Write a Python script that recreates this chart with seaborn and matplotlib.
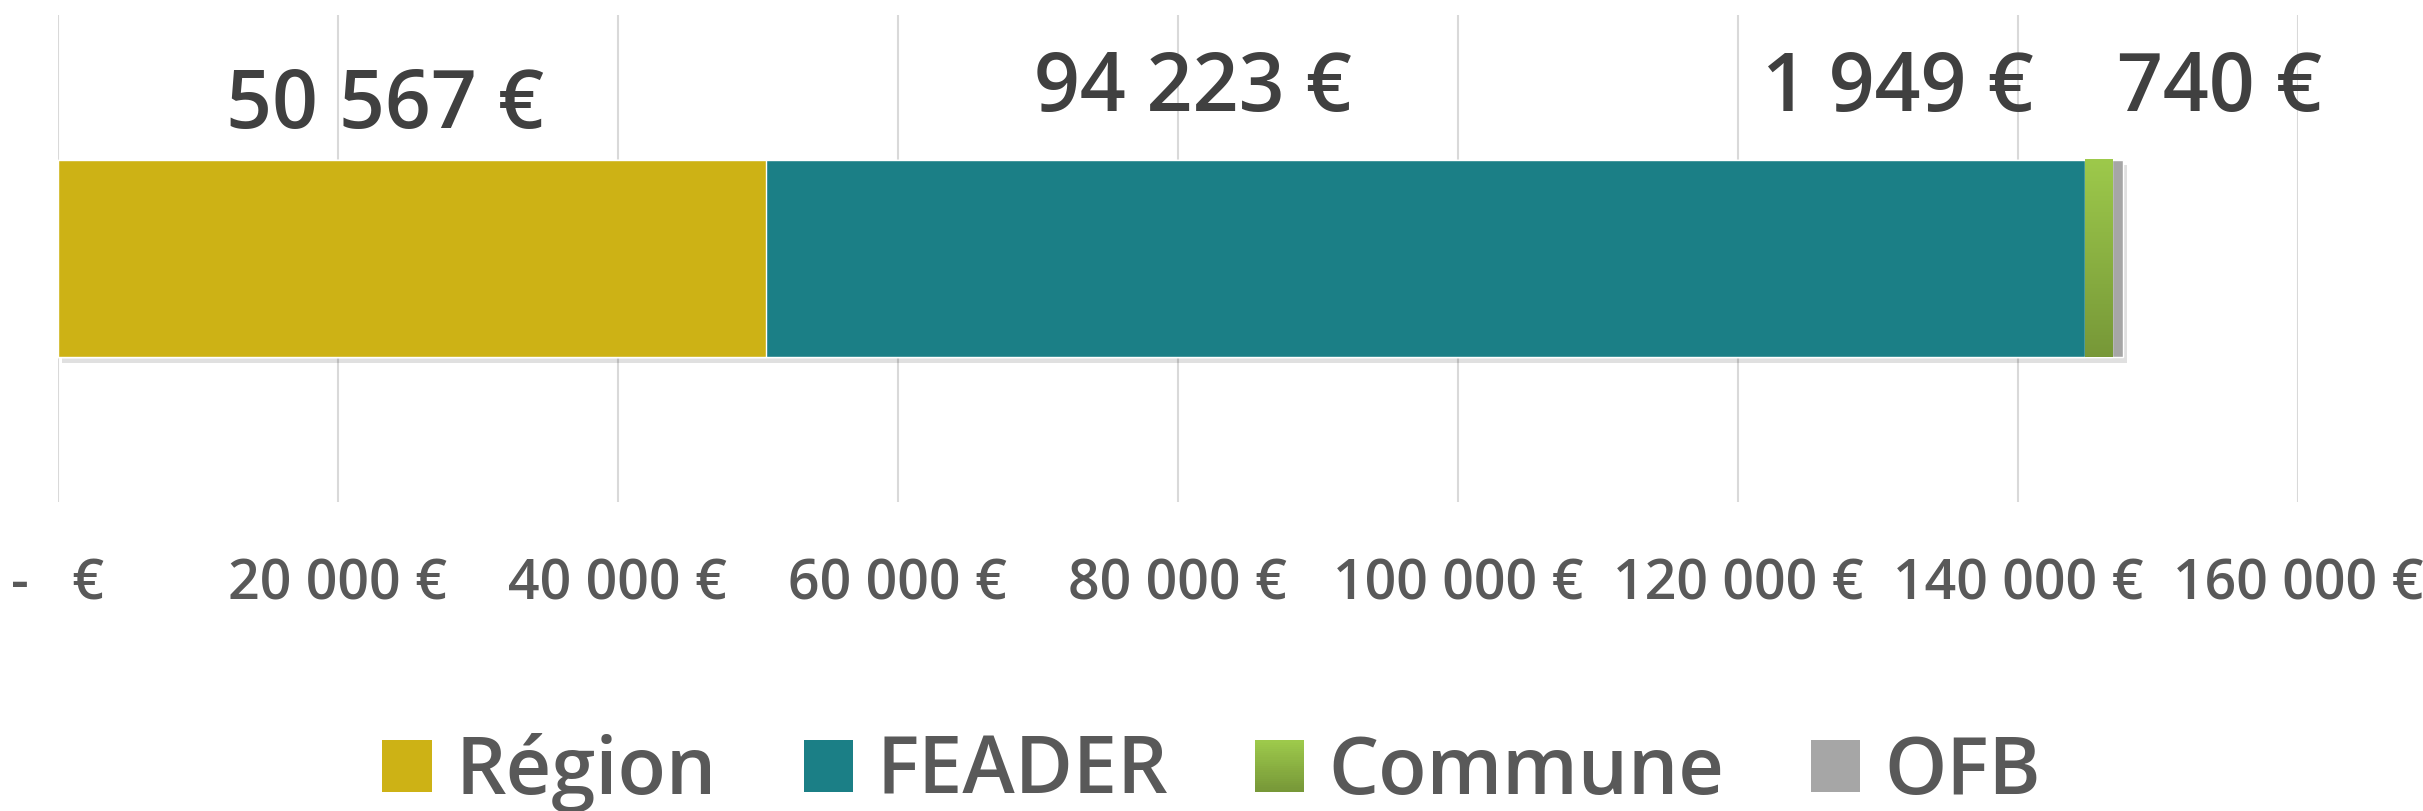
import numpy as np
import pandas as pd
import matplotlib
matplotlib.use('Agg')
import matplotlib.pyplot as plt
import matplotlib.patches as mpatches
import matplotlib.colors as mcolors
from matplotlib import patheffects as pe
from matplotlib.legend_handler import HandlerBase
import seaborn as sns

# data
sources = ['Région', 'FEADER', 'Commune', 'OFB']
amounts = [50567, 94223, 1949, 740]
value_labels = ['50 567 €', '94 223 €', '1 949 €', '740 €']
tick_values = [0, 20000, 40000, 60000, 80000, 100000, 120000, 140000, 160000]
tick_labels = ['-   €', '20 000 €', '40 000 €', '60 000 €', '80 000 €',
               '100 000 €', '120 000 €', '140 000 €', '160 000 €']

# style
colors = {'Région': '#CDB215', 'FEADER': '#1B7F86', 'Commune': '#8BB245', 'OFB': '#A6A6A6'}
commune_top, commune_bottom = '#9DC94B', '#779838'
label_x = [23400, 81100, 131400, 154400]
label_y = [0.812, 0.845, 0.845, 0.845]

df = pd.DataFrame({'source': sources, 'amount': amounts})
df['end'] = df['amount'].cumsum()
df['start'] = df['end'] - df['amount']
df['row'] = 'Financement'

sns.set_theme(style='white')
plt.rcParams['font.family'] = ['Open Sans', 'DejaVu Sans']
plt.rcParams['font.weight'] = 600

fig = plt.figure(figsize=(24.23, 8.11), dpi=100)
ax = fig.add_axes([0.0239, 0.381, 0.9245, 0.6005])

# stacked bar: draw cumulative totals from the largest down
for i in reversed(range(len(df))):
    sns.barplot(data=df.iloc[[i]], x='end', y='row', orient='h',
                color=colors[df.source[i]], saturation=1, width=0.405, ax=ax)

ax.patches[0].set_path_effects([pe.SimplePatchShadow(offset=(3, -4), shadow_rgbFace='black', alpha=0.12),
                                pe.Normal()])

# gradient on the Commune segment
ci = sources.index('Commune')
cpatch = ax.patches[len(df) - 1 - ci]
grad = mcolors.LinearSegmentedColormap.from_list('commune', [commune_top, commune_bottom])
y0, y1 = cpatch.get_y(), cpatch.get_y() + cpatch.get_height()
ax.imshow(np.linspace(0, 1, 100).reshape(-1, 1), cmap=grad, aspect='auto', origin='upper',
          extent=(df.start[ci], df.end[ci], y1, y0), zorder=3)

ax.set_xlim(0, 160000)
ax.set_ylim(0.5, -0.5)
ax.set_xticks(tick_values)
ax.set_xticklabels(tick_labels, fontweight=600)
ax.set_yticks([])
ax.set_xlabel('')
ax.set_ylabel('')
ax.xaxis.grid(True, color='#D9D9D9', lw=1.5)
ax.set_axisbelow(True)
sns.despine(ax=ax, left=True, bottom=True)
ax.tick_params(axis='x', length=0, labelsize=40, labelcolor='#595959', pad=40)

for x, y, lab in zip(label_x, label_y, value_labels):
    ax.text(x, y, lab, transform=ax.get_xaxis_transform(), ha='center', va='center',
            fontsize=58, color='#404040', fontweight=600)


class GradientHandler(HandlerBase):
    def __init__(self, top, bottom, steps=24):
        super().__init__()
        self.top, self.bottom, self.steps = top, bottom, steps

    def create_artists(self, legend, orig_handle, xdescent, ydescent, width, height, fontsize, trans):
        cmap = mcolors.LinearSegmentedColormap.from_list('g', [self.bottom, self.top])
        arts = []
        for k in range(self.steps):
            r = mpatches.Rectangle((-xdescent, -ydescent + height * k / self.steps), width,
                                   height / self.steps * 1.1, facecolor=cmap(k / (self.steps - 1)),
                                   edgecolor='none', transform=trans)
            arts.append(r)
        return arts


handles = [mpatches.Patch(facecolor=colors[s], edgecolor='none') for s in sources]
fig.legend(handles, sources, loc='center', bbox_to_anchor=(0.5, 0.047), ncol=4, frameon=False,
           prop={'size': 57, 'weight': 600}, labelcolor='#595959',
           handlelength=0.62, handleheight=0.62, handletextpad=0.3, columnspacing=1.1,
           handler_map={handles[ci]: GradientHandler(commune_top, commune_bottom)})

fig.savefig('out.png', dpi=100)
